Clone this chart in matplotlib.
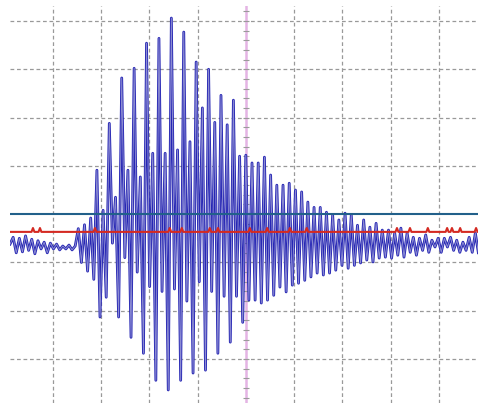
import numpy as np
import matplotlib
matplotlib.use("Agg")
import matplotlib.pyplot as plt

t_start = 0.11        # first sample, in divisions
sample_step = 0.0643  # divisions per sample

head = [
    -0.62, -0.48, -0.80, -0.50, -0.78, -0.45, -0.75, -0.52, -0.82, -0.55,
    -0.72, -0.58, -0.80, -0.60, -0.72, -0.62, -0.74, -0.66, -0.72, -0.64,
    -0.74, -0.66, -0.30, -1.00, -0.22, -1.18, -0.08, -1.35, 0.91, -2.13,
    0.08, -1.72, 1.88, -0.60, 0.35, -2.13, 2.82, -0.90, 0.91, -2.55,
    3.02, -1.20, 0.77, -2.88, 3.54, -1.50, 1.26, -3.44, 3.64, -1.60,
    1.26, -3.64, 4.06, -1.55, 1.33, -3.44, 3.77, -1.80, 1.50, -3.29,
    3.15, -1.40, 2.20, -3.23, 3.00, -1.60, 1.90, -2.88, 2.46, -1.70,
    1.85, -2.65, 2.36, -1.70, 1.20, -2.24,
]
tail_tops = [
    1.22, 1.06, 1.06, 1.18, 0.81, 0.60, 0.60, 0.64, 0.50, 0.46,
    0.25, 0.14, 0.14, 0.04, -0.02, -0.12, 0.02, -0.02, -0.23, -0.12,
    -0.27, -0.19, -0.33, -0.33, -0.39, -0.29, -0.39, -0.48, -0.50, -0.43,
    -0.54, -0.50, -0.50, -0.48, -0.54, -0.58, -0.48, -0.39, -0.33,
]
tail_bottoms = [
    -1.78, -1.78, -1.84, -1.78, -1.68, -1.51, -1.61, -1.47, -1.43, -1.37,
    -1.30, -1.22, -1.26, -1.22, -1.16, -1.06, -1.12, -1.06, -1.01, -0.95,
    -0.99, -0.91, -0.89, -0.91, -0.85, -0.89, -0.79, -0.85, -0.75, -0.79,
    -0.68, -0.79, -0.68, -0.75, -0.79, -0.75, -0.79, -0.81,
]

# reference levels and cursor
red_level = -0.367
red_bumps = [0.585, 0.73, 1.87, 3.42, 3.67, 4.25, 4.42, 5.08, 5.44, 5.91,
             6.26, 8.13, 8.40, 8.77, 9.17, 9.27, 9.44, 9.77]
teal_level = 0.0
cursor_x = 5.0

# build trace
tail = []
for i in range(len(tail_tops)):
    tail.append(tail_tops[i])
    if i < len(tail_bottoms):
        tail.append(tail_bottoms[i])
signal = np.array(head + tail)
t = t_start + sample_step * np.arange(len(signal))

# red line with its little spikes
rx, ry = [0.0], [red_level]
for b in red_bumps:
    rx += [b - 0.03, b, b + 0.03]
    ry += [red_level, red_level + 0.08, red_level]
rx.append(10.0)
ry.append(red_level)

fig = plt.figure(figsize=(4.78, 4.03), dpi=100)
ax = fig.add_axes([10 / 478, 0, 468 / 478, 397 / 403])
ax.set_xlim(0.109, 9.81)
ax.set_ylim(-3.91, 4.31)
ax.axis("off")

grid_kw = dict(color="#999999", lw=0.9, ls=(0, (3, 2.2)), zorder=1)
for gx in [1, 2, 3, 4, 6, 7, 8, 9]:
    ax.axvline(gx, **grid_kw)
for gy in [-3, -2, -1, 1, 2, 3, 4]:
    ax.axhline(gy, **grid_kw)

# center cursor with small ticks
ax.axvline(cursor_x, color="#e4b4e4", lw=1.8, zorder=2)
ax.plot(np.full(41, cursor_x), np.arange(-3.8, 4.3, 0.2), ls="none",
        marker="_", ms=4, mew=0.8, color="#9a9a9a", zorder=2)

# trace drawn as a dark outline with a pale core, like the scope render
ax.plot(t, signal, color="#2626b4", lw=2.0, zorder=3)
ax.plot(t, signal, color="#8c8cd2", lw=0.7, zorder=3)
ax.plot(rx, ry, color="#d42a22", lw=1.5, zorder=4)
ax.axhline(teal_level, color="#22608a", lw=1.5, zorder=4)

fig.savefig("out.png", dpi=100)
